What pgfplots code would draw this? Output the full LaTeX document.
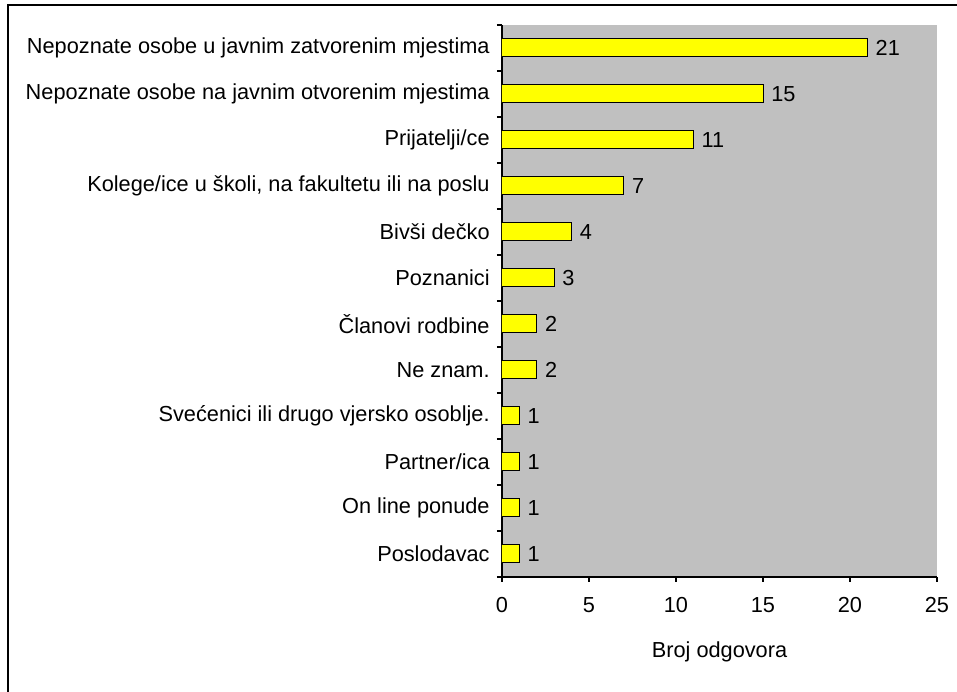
\documentclass[border=0pt]{standalone}
\usepackage{fontspec}
\setmainfont{Liberation Sans}
\usepackage{pgfplots}
\pgfplotsset{compat=1.18}
\definecolor{plotgray}{RGB}{192,192,192}
\definecolor{baryellow}{RGB}{255,255,0}
\begin{document}
\begin{tikzpicture}[x=1pt,y=1pt,font=\fontsize{16.3}{19}\selectfont]
\useasboundingbox (0,0) rectangle (717.75,519);
% outer frame (cut off at right and bottom)
\draw[line width=1.8pt] (6,-10) -- (6,515.25) -- (730,515.25);
\begin{axis}[
    at={(376.5pt,86.25pt)}, anchor=south west,
    scale only axis, width=326.25pt, height=414pt,
    xbar, bar width=13.5pt,
    xmin=0, xmax=25, ymin=-0.5, ymax=11.5,
    axis background/.style={fill=plotgray},
    axis x line*=bottom, axis y line*=left,
    axis line style={line width=0.8pt},
    tick align=outside, major tick length=3.75pt,
    tick style={black, line width=0.8pt},
    xtick={0,5,...,25},
    ytick={-0.5,0.5,...,11.5},
    y tick label as interval,
    yticklabels={Poslodavac, On line ponude, Partner/ica,
        Svećenici ili drugo vjersko osoblje., Ne znam., Članovi rodbine,
        Poznanici, Bivši dečko, {Kolege/ice u školi, na fakultetu ili na poslu},
        Prijatelji/ce, Nepoznate osobe na javnim otvorenim mjestima,
        Nepoznate osobe u javnim zatvorenim mjestima},
    y tick label style={anchor=east, xshift=-2pt},
    x tick label style={yshift=-8pt},
    xlabel={Broj odgovora},
    xlabel style={at={(axis description cs:0.5,0)}, anchor=center, yshift=-56.25pt},
    /pgf/number format/assume math mode=true,
    nodes near coords,
    every node near coord/.append style={anchor=west, black, xshift=2.5pt},
]
\addplot[fill=baryellow, draw=black, line width=0.75pt] coordinates {
    (1,0) (1,1) (1,2) (1,3) (2,4) (2,5) (3,6) (4,7) (7,8) (11,9) (15,10) (21,11)
};
\end{axis}
\end{tikzpicture}
\end{document}
